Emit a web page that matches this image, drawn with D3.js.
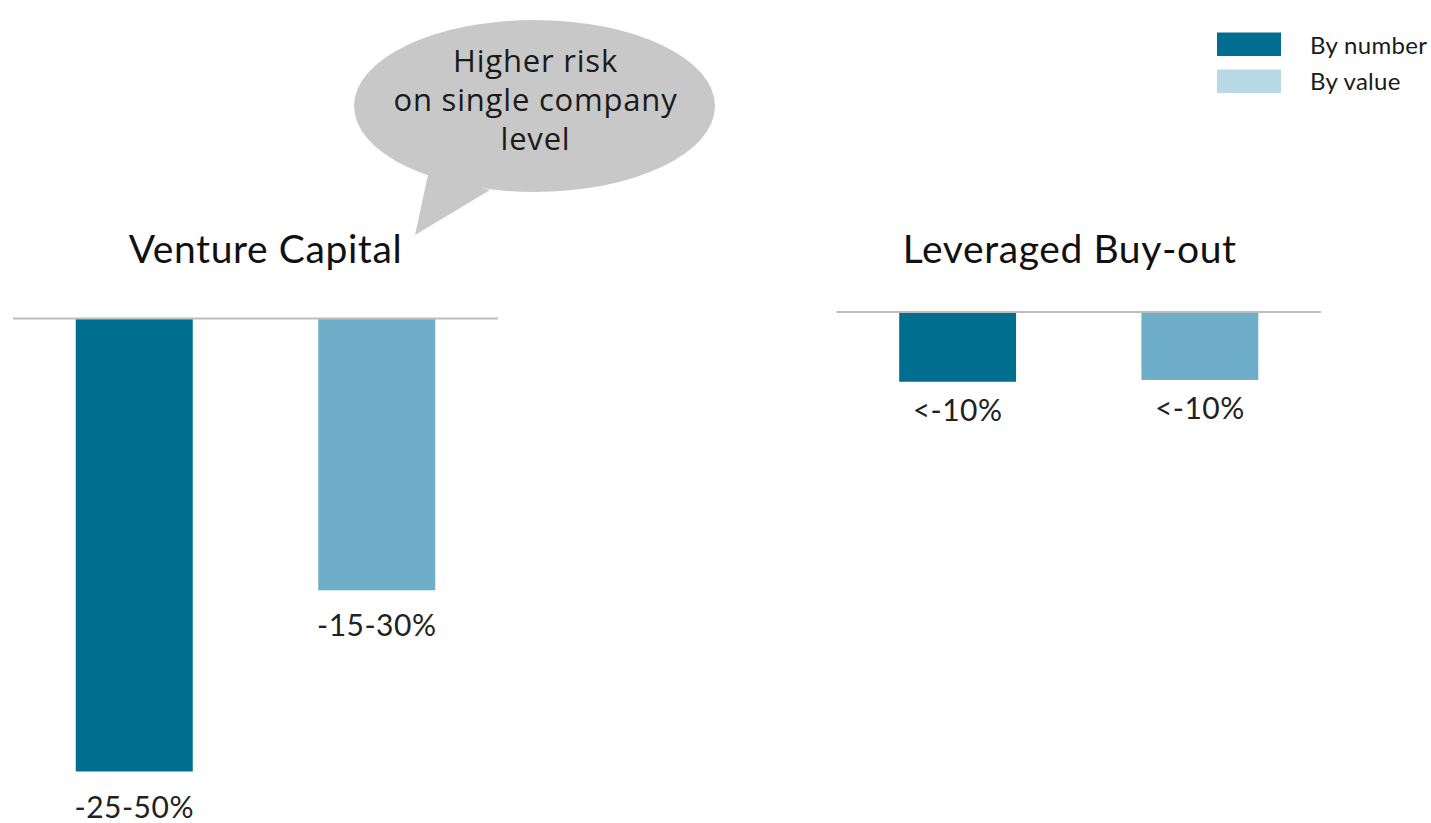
<!DOCTYPE html>
<html>
<head>
<meta charset="utf-8">
<script src="https://cdn.jsdelivr.net/npm/d3@7"></script>
<style>
  html, body { margin: 0; padding: 0; background: #ffffff; }
  svg { display: block; }
</style>
</head>
<body>
<svg id="chart" width="1431" height="823"></svg>
<script>
// Drawdown ranges for venture capital vs. leveraged buy-out portfolios
const panels = ["Venture Capital", "Leveraged Buy-out"];
const seriesNames = ["By number", "By value"];
const ventureValues = [-50, -30];
const buyoutValues = [-7.7, -7.5];
const ventureLabels = ["-25-50%", "-15-30%"];
const buyoutLabels = ["<-10%", "<-10%"];
const calloutLines = ["Higher risk", "on single company", "level"];

const barColors = ["#006E8F", "#6FAEC8"];
const legendColors = ["#006E8F", "#B7D9E6"];
const textFont = "Lato, 'Open Sans', sans-serif";

const svg = d3.select("#chart");

// shared value scale: 0 at the baseline, downward for losses
const y = d3.scaleLinear().domain([0, -50]).range([0, 453]);

const panelDefs = [
  { title: panels[0], values: ventureValues, labels: ventureLabels,
    x0: 13, x1: 498, base: 318.5, titleY: 263, titleShift: 10, labelGap: 46 },
  { title: panels[1], values: buyoutValues, labels: buyoutLabels,
    x0: 836.5, x1: 1321, base: 312, titleY: 263, titleShift: -9, labelGap: 39 }
];

panelDefs.forEach(p => {
  const g = svg.append("g");
  const x = d3.scaleBand()
    .domain(seriesNames)
    .range([p.x0, p.x1])
    .paddingInner(0.5175)
    .paddingOuter(0.2588);

  // panel title
  g.append("text")
    .attr("x", (p.x0 + p.x1) / 2 + p.titleShift)
    .attr("y", p.titleY)
    .attr("text-anchor", "middle")
    .attr("font-family", textFont)
    .attr("font-size", 39)
    .attr("letter-spacing", 0.6)
    .attr("fill", "#111")
    .text(p.title);

  // bars
  g.selectAll("rect.bar")
    .data(p.values)
    .join("rect")
    .attr("class", "bar")
    .attr("x", (d, i) => x(seriesNames[i]))
    .attr("width", x.bandwidth())
    .attr("y", p.base)
    .attr("height", d => y(d))
    .attr("fill", (d, i) => barColors[i]);

  // baseline
  g.append("line")
    .attr("x1", p.x0).attr("x2", p.x1)
    .attr("y1", p.base).attr("y2", p.base)
    .attr("stroke", "#BDBDBD")
    .attr("stroke-width", 2);

  // value labels under each bar
  g.selectAll("text.val")
    .data(p.values)
    .join("text")
    .attr("class", "val")
    .attr("x", (d, i) => x(seriesNames[i]) + x.bandwidth() / 2)
    .attr("y", d => p.base + y(d) + p.labelGap)
    .attr("text-anchor", "middle")
    .attr("font-family", textFont)
    .attr("font-size", 30)
    .attr("letter-spacing", 0.5)
    .attr("fill", "#222")
    .text((d, i) => p.labels[i]);
});

// speech-bubble callout
const bubble = svg.append("g");
const cx = 534.5, cy = 106, rx = 180.5, ry = 86;
bubble.append("path")
  .attr("d", "M428,175 L415,235 L490,190 Z")
  .attr("fill", "#C8C8C8");
bubble.append("ellipse")
  .attr("cx", cx).attr("cy", cy).attr("rx", rx).attr("ry", ry)
  .attr("fill", "#C8C8C8");
bubble.selectAll("text")
  .data(calloutLines)
  .join("text")
  .attr("x", cx + 1)
  .attr("y", (d, i) => 72 + i * 39)
  .attr("text-anchor", "middle")
  .attr("font-family", "'Open Sans', 'Noto Sans', sans-serif")
  .attr("font-size", 31)
  .attr("letter-spacing", 0.8)
  .attr("fill", "#1a1a1a")
  .text(d => d);

// legend
const legend = svg.append("g");
seriesNames.forEach((name, i) => {
  legend.append("rect")
    .attr("x", 1217).attr("y", 32.5 + i * 37)
    .attr("width", 64).attr("height", 23.5)
    .attr("fill", legendColors[i]);
  legend.append("text")
    .attr("x", 1310).attr("y", 54 + i * 36)
    .attr("font-family", textFont)
    .attr("font-size", 24)
    .attr("letter-spacing", 0.3)
    .attr("fill", "#1a1a1a")
    .text(name);
});

// clipped heading glyph at the top-left edge
svg.append("text")
  .attr("x", -10).attr("y", 20)
  .attr("font-family", textFont)
  .attr("font-size", 22)
  .attr("fill", "#1F3B6E")
  .text("s");
</script>
</body>
</html>
